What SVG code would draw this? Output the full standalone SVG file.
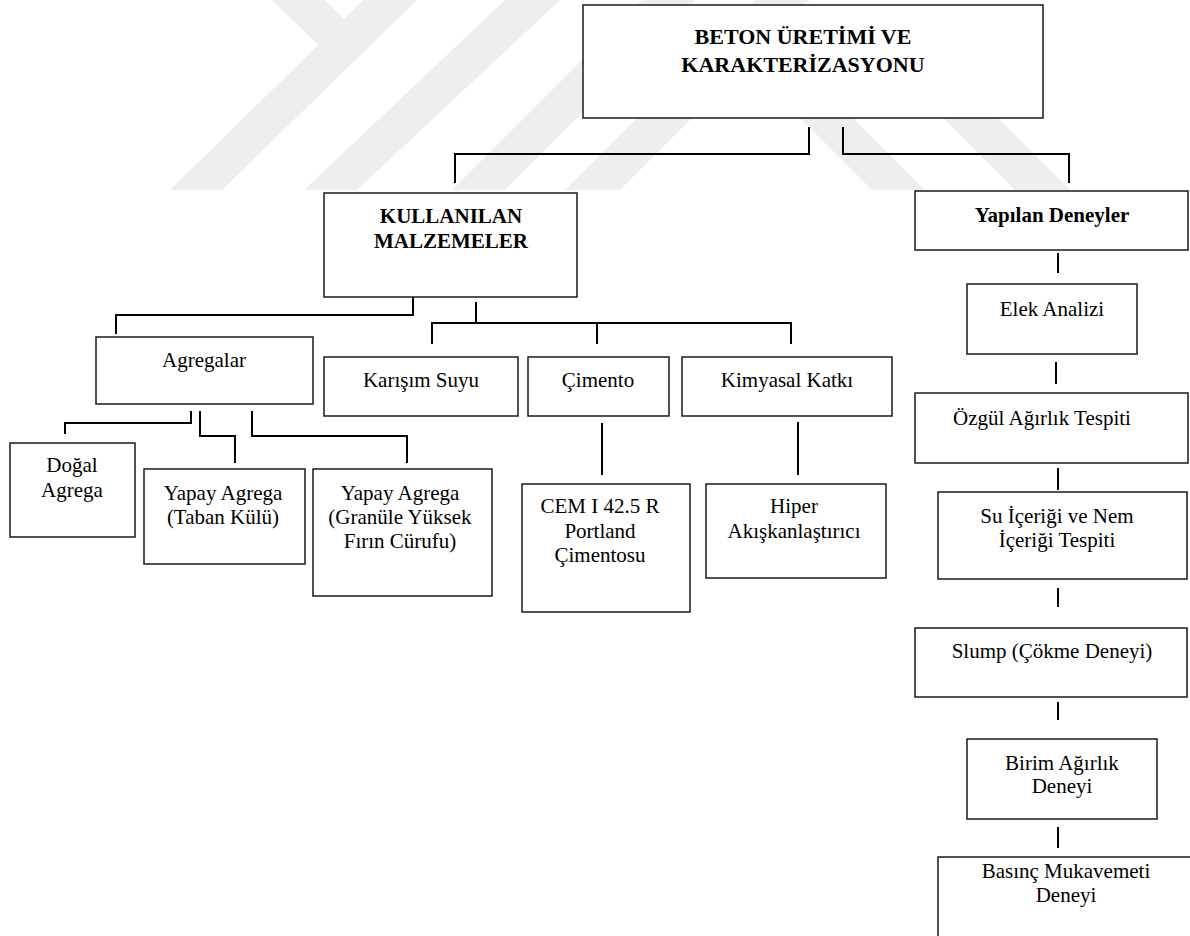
<svg xmlns="http://www.w3.org/2000/svg" width="1190" height="936" viewBox="0 0 1190 936">
<style>
.wm{fill:#eeeeee;stroke:none}
.box{fill:#ffffff;stroke:#1a1a1a;stroke-width:1.5}
.t{font-family:"Liberation Serif","Times New Roman",serif;font-size:21px;fill:#000;text-anchor:middle}
.b{font-weight:bold}
.big{font-size:22px}
.c{fill:none;stroke:#000;stroke-width:2}
</style>
<rect x="0" y="0" width="1190" height="936" fill="#ffffff"/>
<g id="watermark">
<polygon class="wm" points="272,0 325,0 344,19 363,0 417,0 222,190 170,190 318,45"/>
<polygon class="wm" points="505,0 560,0 357,190 304,190"/>
<polygon class="wm" points="642,0 695,0 505,190 452,190"/>
<polygon class="wm" points="755,0 810,0 620,190 565,190"/>
<polygon class="wm" points="782,100 835,100 925,190 872,190"/>
<polygon class="wm" points="925,100 980,100 1070,190 1015,190"/>
</g>
<g id="connectors">
<path class="c" d="M809,127 V154 H455 V183"/>
<path class="c" d="M843,127 V154 H1069 V183"/>
<path class="c" d="M413,297 V315 H116 V334"/>
<path class="c" d="M476,302 V323"/>
<path class="c" d="M432,344 V323 H791 V344"/>
<path class="c" d="M597,323 V344"/>
<path class="c" d="M191,411 V423 H65 V434"/>
<path class="c" d="M200,411 V436 H235 V463"/>
<path class="c" d="M252,411 V436 H407 V463"/>
<path class="c" d="M602,423 V475"/>
<path class="c" d="M798,422 V475"/>
<path class="c" d="M1058,253 V273"/>
<path class="c" d="M1056,362 V384"/>
<path class="c" d="M1058,468 V490"/>
<path class="c" d="M1058,588 V607"/>
<path class="c" d="M1058,702 V720"/>
<path class="c" d="M1058,827 V848"/>
</g>
<g id="n-beton">
<rect class="box" x="583" y="5" width="460" height="113"/>
<text class="t b big" x="803" y="44">BETON ÜRETİMİ VE</text>
<text class="t b big" x="803" y="72">KARAKTERİZASYONU</text>
</g>
<g id="n-kullanilan">
<rect class="box" x="324" y="193" width="253" height="104"/>
<text class="t b" x="451" y="223">KULLANILAN</text>
<text class="t b" x="451" y="248">MALZEMELER</text>
</g>
<g id="n-yapilan">
<rect class="box" x="915" y="191" width="273" height="59"/>
<text class="t b" x="1052" y="222">Yapılan Deneyler</text>
</g>
<g id="n-agregalar">
<rect class="box" x="96" y="337" width="217" height="67"/>
<text class="t" x="204" y="367">Agregalar</text>
</g>
<g id="n-karisim">
<rect class="box" x="324" y="357" width="194" height="59"/>
<text class="t" x="421" y="387">Karışım Suyu</text>
</g>
<g id="n-cimento">
<rect class="box" x="528" y="357" width="141" height="59"/>
<text class="t" x="598" y="387">Çimento</text>
</g>
<g id="n-kimyasal">
<rect class="box" x="682" y="357" width="210" height="59"/>
<text class="t" x="787" y="387">Kimyasal Katkı</text>
</g>
<g id="n-dogal">
<rect class="box" x="10" y="443" width="125" height="94"/>
<text class="t" x="72" y="472">Doğal</text>
<text class="t" x="72" y="497">Agrega</text>
</g>
<g id="n-taban">
<rect class="box" x="144" y="469" width="161" height="95"/>
<text class="t" x="223" y="500">Yapay Agrega</text>
<text class="t" x="223" y="524">(Taban Külü)</text>
</g>
<g id="n-granule">
<rect class="box" x="313" y="469" width="179" height="127"/>
<text class="t" x="400" y="500">Yapay Agrega</text>
<text class="t" x="400" y="524">(Granüle Yüksek</text>
<text class="t" x="400" y="548">Fırın Cürufu)</text>
</g>
<g id="n-cem">
<rect class="box" x="522" y="484" width="168" height="128"/>
<text class="t" x="600" y="513">CEM I 42.5 R</text>
<text class="t" x="600" y="538">Portland</text>
<text class="t" x="600" y="562">Çimentosu</text>
</g>
<g id="n-hiper">
<rect class="box" x="706" y="484" width="180" height="94"/>
<text class="t" x="794" y="513">Hiper</text>
<text class="t" x="794" y="538">Akışkanlaştırıcı</text>
</g>
<g id="n-elek">
<rect class="box" x="967" y="284" width="170" height="70"/>
<text class="t" x="1052" y="316">Elek Analizi</text>
</g>
<g id="n-ozgul">
<rect class="box" x="915" y="393" width="273" height="70"/>
<text class="t" x="1042" y="425">Özgül Ağırlık Tespiti</text>
</g>
<g id="n-su">
<rect class="box" x="938" y="492" width="249" height="87"/>
<text class="t" x="1057" y="523">Su İçeriği ve Nem</text>
<text class="t" x="1057" y="547">İçeriği Tespiti</text>
</g>
<g id="n-slump">
<rect class="box" x="915" y="628" width="272" height="69"/>
<text class="t" x="1052" y="658">Slump (Çökme Deneyi)</text>
</g>
<g id="n-birim">
<rect class="box" x="967" y="739" width="190" height="80"/>
<text class="t" x="1062" y="770">Birim Ağırlık</text>
<text class="t" x="1062" y="793">Deneyi</text>
</g>
<g id="n-basinc">
<rect class="box" x="938" y="857" width="262" height="100"/>
<text class="t" x="1066" y="878">Basınç Mukavemeti</text>
<text class="t" x="1066" y="902">Deneyi</text>
</g>
</svg>
